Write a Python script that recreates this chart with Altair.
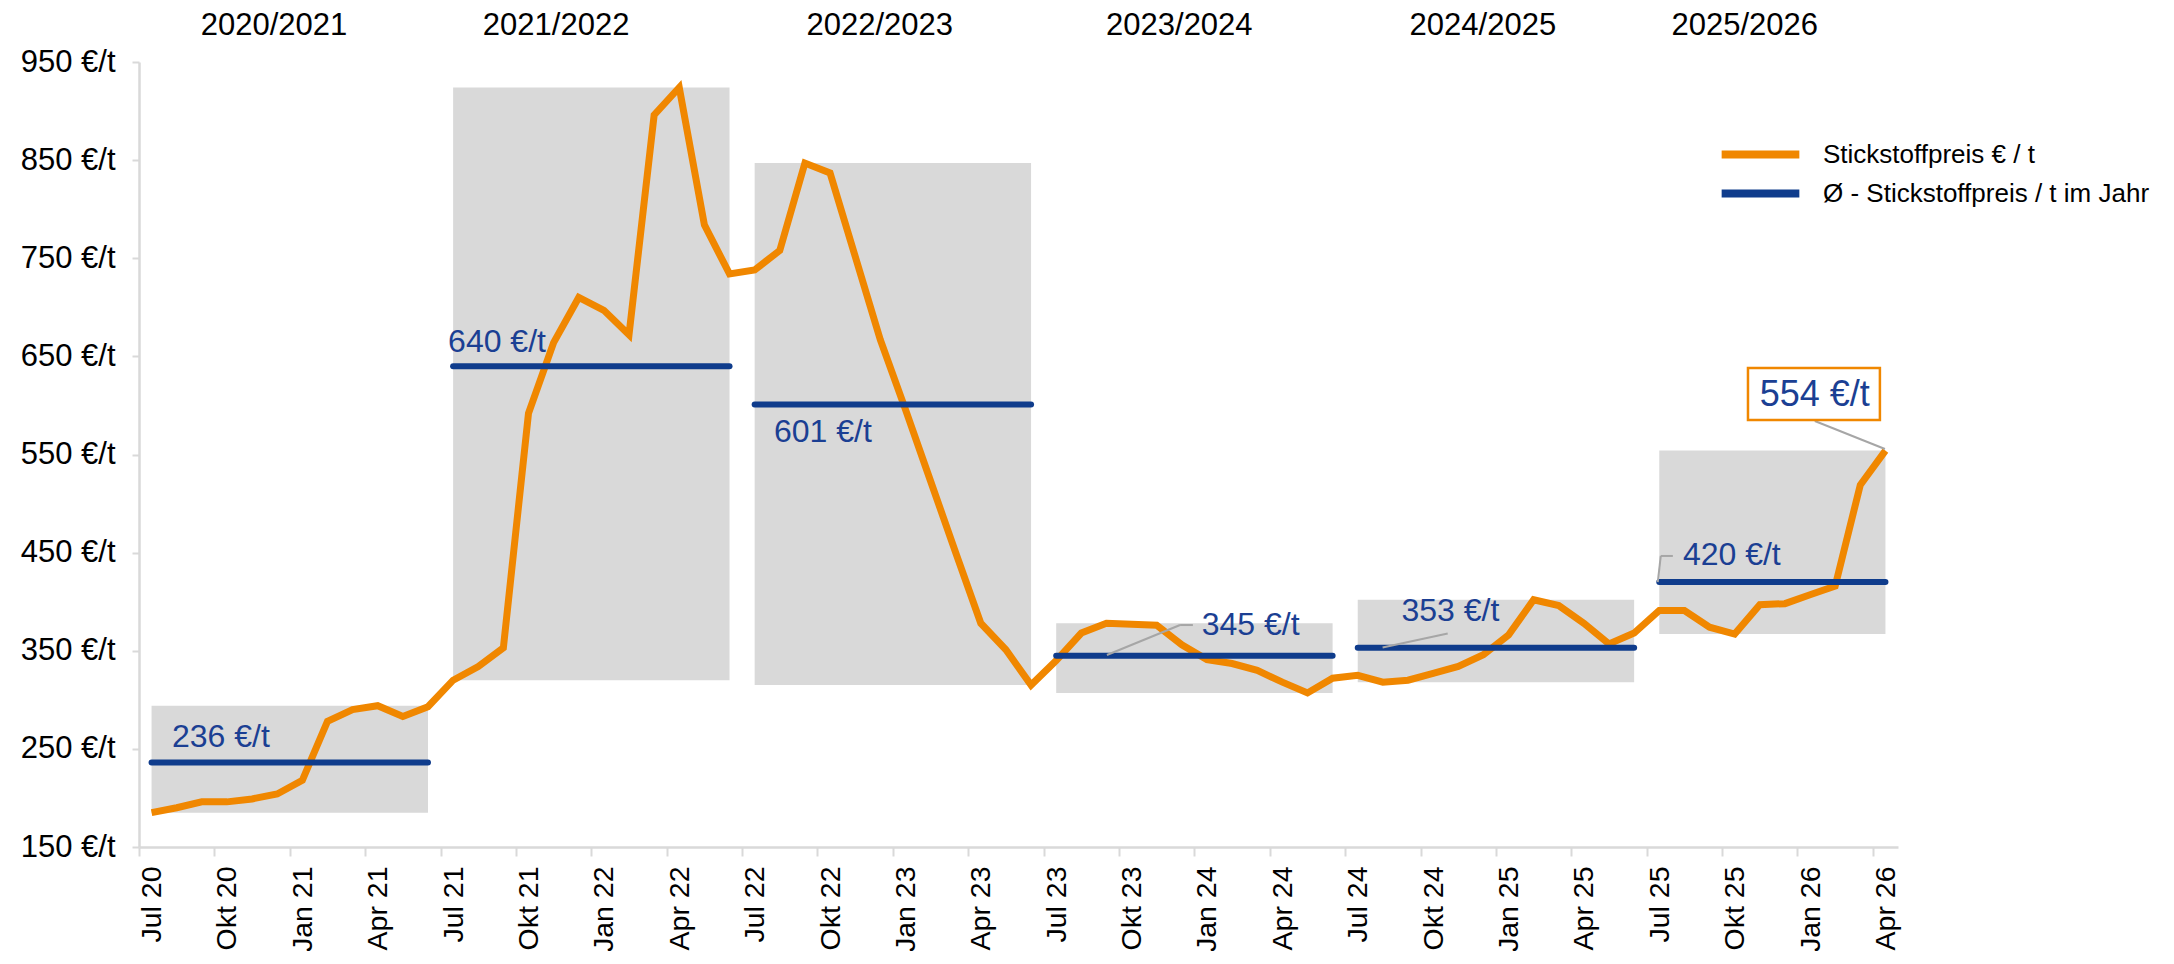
import altair as alt
import pandas as pd

FONT = "Liberation Sans"
ORANGE = "#F08700"
BLUE = "#0F3C8C"
LABEL_BLUE = "#1B3F93"
BOX_GRAY = "#D9D9D9"
LEADER_GRAY = "#A6A6A6"
AXIS_GRAY = "#D9D9D9"

# ---- data -------------------------------------------------------------
month_abbr = ["Jan", "Feb", "Mär", "Apr", "Mai", "Jun", "Jul", "Aug", "Sep", "Okt", "Nov", "Dez"]
months = []
for k in range(70):
    m = (6 + k) % 12
    y = 20 + (6 + k) // 12
    months.append(f"{month_abbr[m]} {y}")

prices = [
    185, 190, 196, 196, 199, 204, 218, 278, 290, 294, 283, 293,   # 2020/2021
    320, 334, 353, 592, 664, 710, 697, 672, 896, 924, 784, 734,   # 2021/2022
    738, 758, 847, 837, 752, 667, 596, 523, 450, 378, 351, 315,   # 2022/2023
    340, 368, 378, 377, 376, 356, 341, 337, 330, 318, 307, 322,   # 2023/2024
    325, 318, 320, 327, 334, 346, 366, 402, 396, 378, 357, 368,   # 2024/2025
    391, 391, 374, 367, 397, 398, 407, 416, 519, 554,             # 2025/2026
]

seasons = ["2020/2021", "2021/2022", "2022/2023", "2023/2024", "2024/2025", "2025/2026"]
season_avg = [236, 640, 601, 345, 353, 420]
avg_labels = ["236 €/t", "640 €/t", "601 €/t", "345 €/t", "353 €/t", "420 €/t"]

SERIES_PRICE = "Stickstoffpreis € / t"
SERIES_AVG = "Ø - Stickstoffpreis / t im Jahr"

# annotation placement (month index / value units)
title_x = [4.87, 16.1, 28.98, 40.9, 52.98, 63.4]
title_y = 987
avg_label_x = [0.81, 11.8, 24.77, 41.79, 49.74, 60.94]
avg_label_y = [262, 665, 573, 376, 390.5, 447.6]

leader_x = [38.02, 40.93, 48.99, 59.94, 60.06, 66.19]
leader_y = [345.7, 376.2, 353.3, 420, 446.6, 584.1]
leader_x2 = [40.93, 41.44, 51.58, 60.06, 60.54, 68.98]
leader_y2 = [376.2, 376.2, 367.6, 446.6, 446.6, 555.6]

last_label = "554 €/t"
last_label_x = 66.19
last_label_y = 611
last_box_x = [63.53]
last_box_x2 = [68.78]
last_box_y = [585.2]
last_box_y2 = [638.2]

# ---- tables -----------------------------------------------------------
price_df = pd.DataFrame({"idx": list(range(len(prices))), "month": months,
                         "price": prices, "series": SERIES_PRICE})

rows = []
for s, name in enumerate(seasons):
    start = 12 * s
    end = min(12 * s + 11, len(prices) - 1)
    vals = prices[start:end + 1]
    rows.append({"season": name, "start": start, "end": end,
                 "lo": min(vals), "hi": max(vals), "avg": season_avg[s],
                 "series": SERIES_AVG})
season_df = pd.DataFrame(rows)

title_df = pd.DataFrame({"x": title_x, "y": [title_y] * len(seasons), "t": seasons})
avg_lab_df = pd.DataFrame({"x": avg_label_x, "y": avg_label_y, "t": avg_labels})
leader_df = pd.DataFrame({"x": leader_x, "y": leader_y, "x2": leader_x2, "y2": leader_y2})
last_box_df = pd.DataFrame({"x": last_box_x, "x2": last_box_x2, "y": last_box_y, "y2": last_box_y2})
last_lab_df = pd.DataFrame({"x": [last_label_x], "y": [last_label_y], "t": [last_label]})

# ---- scales / axes ----------------------------------------------------
x_scale = alt.Scale(domain=[-0.5, 69.5], nice=False, zero=False)
y_scale = alt.Scale(domain=[150, 950], nice=False, zero=False)

label_array = "[" + ",".join("'" + m + "'" for m in months) + "]"
x_axis = alt.Axis(
    values=[-0.5 + 3 * k for k in range(24)],
    labelExpr=label_array + "[round(datum.value + 0.5)]",
    labelAngle=270, labelAlign="right", labelBaseline="middle",
    labelOffset=12.56, labelPadding=10, labelFontSize=28.5, labelFont=FONT,
    labelColor="#000000", tickSize=9, tickWidth=2, tickColor=AXIS_GRAY,
    domainColor=AXIS_GRAY, domainWidth=2.5, grid=False, title=None,
    labelOverlap=False,
)
y_axis = alt.Axis(
    values=[150, 250, 350, 450, 550, 650, 750, 850, 950],
    labelExpr="datum.value + ' €/t'", labelFontSize=31, labelFont=FONT,
    labelColor="#000000", labelPadding=17, tickSize=7, tickWidth=2,
    tickColor=AXIS_GRAY, domainColor=AXIS_GRAY, domainWidth=2.5,
    grid=False, title=None,
)

color_scale = alt.Scale(domain=[SERIES_PRICE, SERIES_AVG], range=[ORANGE, BLUE])
legend = alt.Legend(
    title=None, orient="none", legendX=1599, legendY=70, padding=0,
    symbolType="M-2.1,0H2.1", symbolSize=1369, symbolStrokeWidth=8,
    labelFontSize=26, labelFont=FONT, labelColor="#000000",
    labelOffset=40, rowPadding=0, labelLimit=500,
)

# ---- layers -----------------------------------------------------------
boxes = alt.Chart(season_df).mark_rect(color=BOX_GRAY).encode(
    x=alt.X("start:Q", scale=x_scale, axis=x_axis),
    x2="end:Q",
    y=alt.Y("lo:Q", scale=y_scale, axis=y_axis),
    y2="hi:Q",
)

line = alt.Chart(price_df).mark_line(strokeWidth=7, strokeJoin="miter").encode(
    x=alt.X("idx:Q", scale=x_scale),
    y=alt.Y("price:Q", scale=y_scale),
    color=alt.Color("series:N", scale=color_scale, legend=legend),
)

avg_rules = alt.Chart(season_df).mark_rule(strokeWidth=6, strokeCap="round").encode(
    x=alt.X("start:Q", scale=x_scale),
    x2="end:Q",
    y=alt.Y("avg:Q", scale=y_scale),
    color=alt.Color("series:N", scale=color_scale, legend=legend),
)

leaders = alt.Chart(leader_df).mark_rule(color=LEADER_GRAY, strokeWidth=2).encode(
    x=alt.X("x:Q", scale=x_scale), x2="x2:Q",
    y=alt.Y("y:Q", scale=y_scale), y2="y2:Q",
)

avg_text = alt.Chart(avg_lab_df).mark_text(
    align="left", baseline="middle", fontSize=32, font=FONT, color=LABEL_BLUE,
).encode(x=alt.X("x:Q", scale=x_scale), y=alt.Y("y:Q", scale=y_scale), text="t:N")

titles = alt.Chart(title_df).mark_text(
    align="center", baseline="middle", fontSize=31, font=FONT, color="#000000",
).encode(x=alt.X("x:Q", scale=x_scale), y=alt.Y("y:Q", scale=y_scale), text="t:N")

last_box = alt.Chart(last_box_df).mark_rect(fill="#FFFFFF", stroke=ORANGE, strokeWidth=2.5).encode(
    x=alt.X("x:Q", scale=x_scale), x2="x2:Q",
    y=alt.Y("y:Q", scale=y_scale), y2="y2:Q",
)

last_text = alt.Chart(last_lab_df).mark_text(
    align="center", baseline="middle", fontSize=36, font=FONT, color=LABEL_BLUE,
).encode(x=alt.X("x:Q", scale=x_scale), y=alt.Y("y:Q", scale=y_scale), text="t:N")

chart = alt.layer(
    boxes, line, avg_rules, leaders, avg_text, titles, last_box, last_text
).properties(
    width=1759, height=785,
    autosize=alt.AutoSizeParams(type="none"),
    padding={"left": 131, "top": 54, "right": 266, "bottom": 104},
    background="#FFFFFF",
).configure_view(strokeWidth=0)

chart.save("out.html", embed_options={"renderer": "svg", "actions": False})
